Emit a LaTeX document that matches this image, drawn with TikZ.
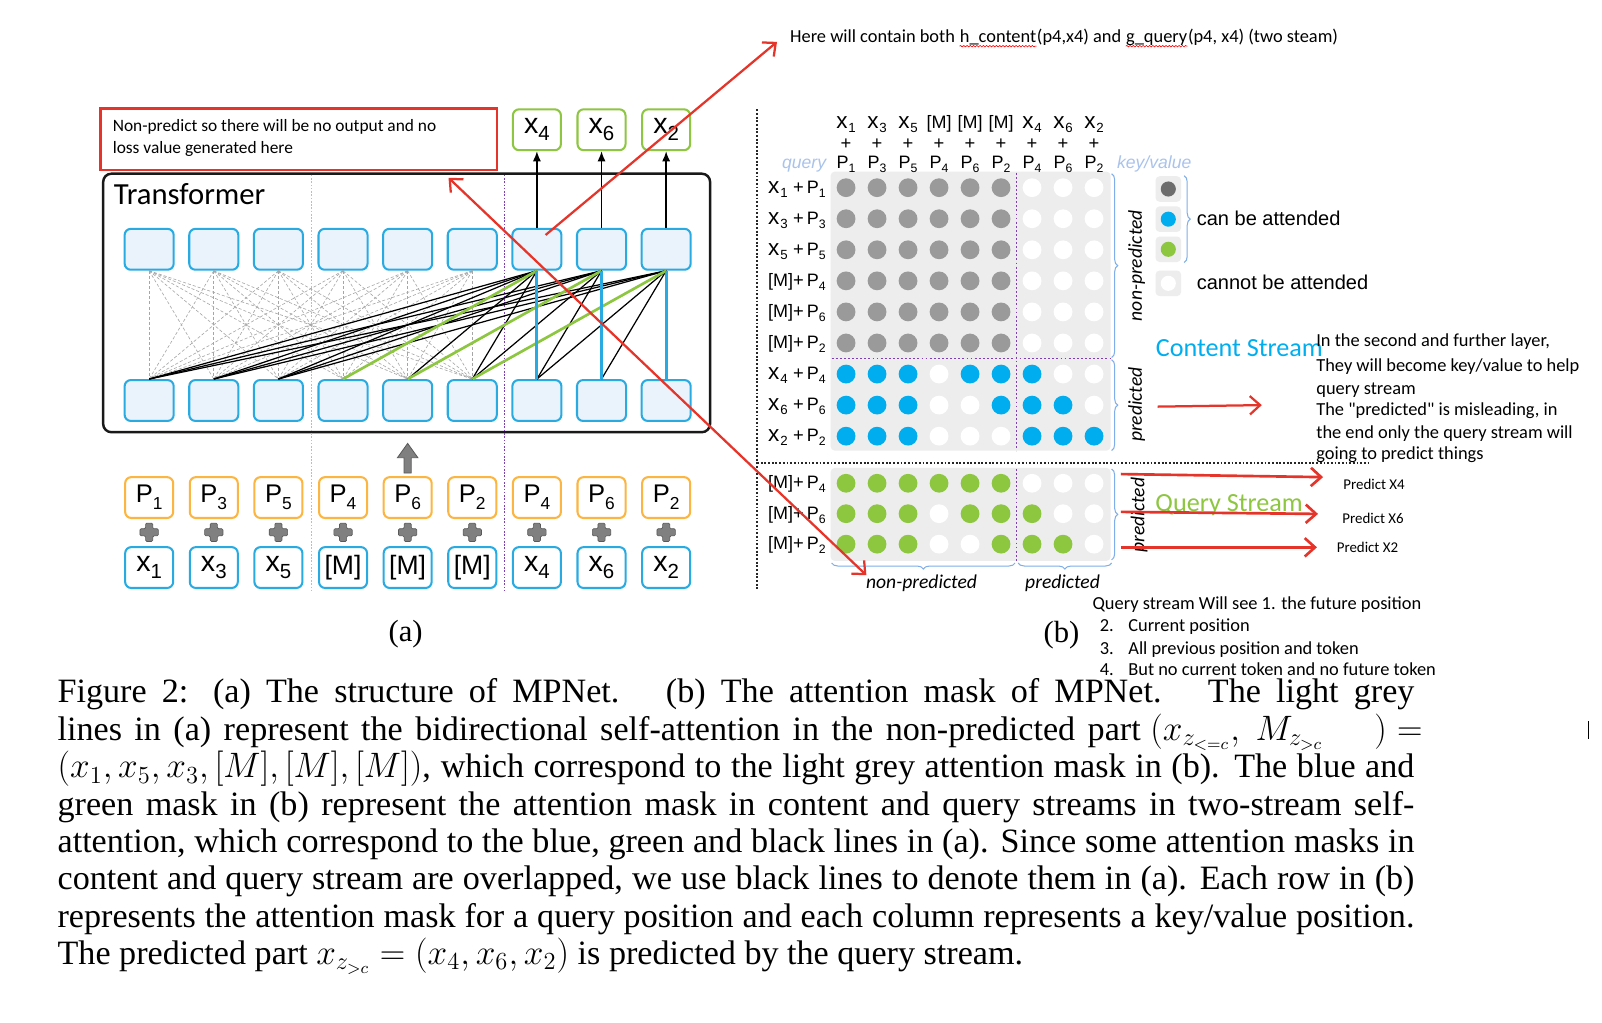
\documentclass[tikz,border=0pt]{standalone}
\usepackage[no-math]{fontspec}
\setmainfont{Liberation Serif}
\newfontfamily\carl{Carlito}
\newfontfamily\hel{Liberation Sans}
\usetikzlibrary{arrows.meta,decorations.pathreplacing,decorations.pathmorphing}
\definecolor{boxblue}{HTML}{29ABE2}
\definecolor{boxfill}{HTML}{EAF2FB}
\definecolor{porange}{HTML}{FBB540}
\definecolor{ogreen}{HTML}{8DC63F}
\definecolor{annred}{HTML}{E5352B}
\definecolor{dotg}{HTML}{9A9A9A}
\definecolor{dotw}{HTML}{FFFFFF}
\definecolor{dotb}{HTML}{00AEEF}
\definecolor{dotq}{HTML}{8DC63F}
\definecolor{dotd}{HTML}{6D6D6D}
\definecolor{matbg}{HTML}{EDEDED}
\definecolor{purp}{HTML}{7E3FB0}
\definecolor{lblue}{HTML}{A9C3EC}
\definecolor{brblue}{HTML}{7FAEE8}
\definecolor{plusg}{HTML}{808080}
\definecolor{dgreen}{HTML}{9AD88A}
\newcommand{\Ax}[1]{{\hel\fontsize{14}{14}\selectfont x\raisebox{-3.5pt}{\fontsize{10}{10}\selectfont #1}}}
\newcommand{\AP}[1]{{\hel\fontsize{12.5}{12.5}\selectfont P\raisebox{-3.5pt}{\fontsize{8.5}{8.5}\selectfont #1}}}
\newcommand{\AM}{{\hel\fontsize{13}{13}\selectfont [M]}}
\newcommand{\Bx}[1]{{\hel\fontsize{11}{11}\selectfont x\kern0.4pt\raisebox{-2pt}{\fontsize{6.5}{6.5}\selectfont #1}}}
\newcommand{\BP}[1]{{\hel\fontsize{8.8}{8.8}\selectfont P\raisebox{-2pt}{\fontsize{6}{6}\selectfont #1}}}
\newcommand{\BM}{{\hel\fontsize{8.8}{8.8}\selectfont [M]}}
\newcommand{\rwave}[1]{\tikz[baseline=(w.base),x=1pt,y=1pt]{\node[inner sep=0pt,anchor=base] (w) at (0,0) {#1};\draw[red,line width=0.3pt,decorate,decoration={snake,amplitude=0.35pt,segment length=1.6pt}] ([yshift=-1.6pt]w.base west) -- ([yshift=-1.6pt]w.base east);}}
\begin{document}
\begin{tikzpicture}[x=0.5pt,y=-0.5pt,
  tok/.style={draw=boxblue, fill=boxfill, line width=1pt, rounded corners=3pt, minimum width=24pt, minimum height=20pt, inner sep=0pt},
  ptok/.style={draw=porange, fill=white, line width=1pt, rounded corners=3pt, minimum width=23.5pt, minimum height=20pt, inner sep=0pt},
  xtok/.style={draw=boxblue, fill=white, line width=1pt, rounded corners=3pt, minimum width=23.5pt, minimum height=20pt, inner sep=0pt},
  otok/.style={draw=ogreen, fill=white, line width=1pt, rounded corners=3pt, minimum width=23.5pt, minimum height=20pt, inner sep=0pt},
  greyl/.style={draw=black!35, line width=0.3pt, dash pattern=on 1.5pt off 1pt},
  blkl/.style={draw=black, line width=0.6pt},
  grnl/.style={draw=ogreen, line width=1.3pt},
  blul/.style={draw=boxblue, line width=1.5pt},
  uparr/.style={draw=black, line width=0.7pt, -{Latex[length=5pt,width=4pt]}},
  redarr/.style={draw=annred, line width=1.1pt, -{Straight Barb[length=5pt,width=9pt]}},
  dotline/.style={draw=black!85, line width=1pt, dash pattern=on 0.9pt off 0.9pt},
  purpline/.style={draw=purp, line width=0.8pt, dash pattern=on 0.9pt off 1.1pt},
  brc/.style={draw=brblue, line width=0.5pt, decorate, decoration={brace, amplitude=3pt}},
  legsq/.style={fill=matbg, rounded corners=2pt, minimum size=12.5pt, inner sep=0pt},
  ann/.style={font=\carl\fontsize{9}{11}\selectfont, inner sep=0pt, anchor=base west},
  lab/.style={inner sep=0pt, anchor=base},
  itl/.style={font=\carl\itshape\fontsize{9.6}{9.6}\selectfont, inner sep=0pt},
  capl/.style={font=\fontsize{16.7}{18.4}\selectfont, inner sep=0pt, anchor=base west}
]
\useasboundingbox (0,0) rectangle (1568,1001);
\fill[white] (0,0) rectangle (1568,1001);

% ---------------- (a) ----------------
\node[draw=annred, line width=1.2pt, minimum width=194pt, minimum height=30pt, inner sep=0pt, anchor=north west] (redbox) at (97,105) {};
\node[ann, font=\carl\fontsize{8.5}{10.5}\selectfont] (rb1) at (110,129) {Non-predict so there will be no output and no};
\node[ann, font=\carl\fontsize{8.5}{10.5}\selectfont] (rb2) at (110,150) {loss value generated here};

\draw[draw=black!90, line width=1.2pt, rounded corners=4pt, fill=white] (101,170) rectangle (695,423);
\node[anchor=base west, inner sep=0pt, font=\carl\fontsize{15}{15}\selectfont] (trf) at (111,200) {Transformer};

\draw[draw=dgreen, line width=0.6pt, dash pattern=on 0.8pt off 0.8pt] (305,171) -- (305,578);
\draw[draw=purp, line width=0.6pt, dash pattern=on 0.8pt off 0.8pt] (494,171) -- (494,578);

\foreach \cx/\pl/\xl [count=\i] in {146/1/{\Ax{1}},209.25/3/{\Ax{3}},272.5/5/{\Ax{5}},335.75/4/{\AM},399/6/{\AM},462.25/2/{\AM},525.5/4/{\Ax{4}},588.75/6/{\Ax{6}},652/2/{\Ax{2}}}{
  \node[tok] (t\i) at (\cx,244) {};
  \node[tok] (b\i) at (\cx,392) {};
  \node[ptok] (p\i) at (\cx,487) {\AP{\pl}};
  \node[xtok] (w\i) at (\cx,555.5) {\xl};
  \begin{scope}[shift={(\cx,521)}]
    \filldraw[fill=plusg, draw=black!65, line width=0.3pt, rounded corners=0.6pt]
      (-3.5,-9) -- (3.5,-9) -- (3.5,-3.5) -- (9,-3.5) -- (9,3.5) -- (3.5,3.5) -- (3.5,9) -- (-3.5,9) -- (-3.5,3.5) -- (-9,3.5) -- (-9,-3.5) -- (-3.5,-3.5) -- cycle;
  \end{scope}
}
\foreach \cx/\l/\i in {525.5/4/7,588.75/6/8,652/2/9}{
  \node[otok] (o\i) at (\cx,127) {\Ax{\l}};
  \draw[uparr] (t\i.north) -- (o\i.south);
}

% bidirectional grey lines
\foreach \a in {1,...,6}{
  \foreach \b in {1,...,6}{
    \draw[greyl] (t\a.south) -- (b\b.north);
  }
}
% black lines
\foreach \t/\bs in {7/{1,2,3,5,6},8/{1,2,3,6,7},9/{1,2,3,7,8}}{
  \foreach \b in \bs { \draw[blkl] (t\t.south) -- (b\b.north); }
}
\draw[grnl] (b4.north) -- (t7.south);
\draw[grnl] (b5.north) -- (t8.south);
\draw[grnl] (b6.north) -- (t9.south);
\draw[blul] (b7.north) -- (t7.south);
\draw[blul] (b8.north) -- (t8.south);
\draw[blul] (b9.north) -- (t9.south);

% block up arrow
\filldraw[fill=plusg, draw=black!65, line width=0.4pt] (395.5,463) -- (402.5,463) -- (402.5,448) -- (409,448) -- (399,434) -- (389,448) -- (395.5,448) -- cycle;

\node[font=\fontsize{15}{15}\selectfont, inner sep=0pt] (la) at (397,621) {(a)};

% ---------------- (b) ----------------
\draw[dotline] (741,107) -- (741,578);
\draw[dotline] (741,453) -- (1340,453);

\fill[matbg, rounded corners=2pt] (813,168) rectangle (1087,441);
\fill[matbg, rounded corners=2pt] (813,458) rectangle (1087,549);

\foreach \row [count=\r] in {{g,g,g,g,g,g,w,w,w},{g,g,g,g,g,g,w,w,w},{g,g,g,g,g,g,w,w,w},{g,g,g,g,g,g,w,w,w},{g,g,g,g,g,g,w,w,w},{g,g,g,g,g,g,w,w,w},{b,b,b,w,b,b,b,w,w},{b,b,b,w,w,b,b,b,w},{b,b,b,w,w,w,b,b,b}}{
  \foreach \c [count=\k] in \row {
    \fill[dot\c] ({828.1+30.34*(\k-1)},{183.7+30.4*(\r-1)}) circle[radius=4.6pt];
  }
}
\foreach \row [count=\r] in {{q,q,q,q,q,q,w,w,w},{q,q,q,w,q,q,q,w,w},{q,q,q,w,w,q,q,q,w}}{
  \foreach \c [count=\k] in \row {
    \fill[dot\c] ({828.1+30.34*(\k-1)},{473+29.8*(\r-1)}) circle[radius=4.6pt];
  }
}
\draw[purpline] (995,169) -- (995,441);
\draw[purpline] (995,459) -- (995,549);
\draw[purpline] (814,351) -- (1087,351);

% column headers
\foreach \lb/\pp [count=\k] in {{\Bx{1}}/1,{\Bx{3}}/3,{\Bx{5}}/5,{\BM}/4,{\BM}/6,{\BM}/2,{\Bx{4}}/4,{\Bx{6}}/6,{\Bx{2}}/2}{
  \node[lab] (hx\k) at ({828.1+30.34*(\k-1)},125.6) {\lb};
  \node[lab, font=\hel\fontsize{9}{9}\selectfont] (hp\k) at ({828.1+30.34*(\k-1)},146.8) {+};
  \node[lab] (hq\k) at ({828.1+30.34*(\k-1)},164.8) {\BP{\pp}};
}
\node[inner sep=0pt, anchor=base east, text=lblue, font=\hel\itshape\fontsize{8.6}{8.6}\selectfont] (lq) at (809,164.8) {query};
\node[inner sep=0pt, anchor=base west, text=lblue, font=\hel\itshape\fontsize{8.6}{8.6}\selectfont] (lkv) at (1093,164.8) {key/value};

% row labels
\foreach \lb/\pp [count=\r] in {{\Bx{1}}/1,{\Bx{3}}/3,{\Bx{5}}/5,{\BM}/4,{\BM}/6,{\BM}/2,{\Bx{4}}/4,{\Bx{6}}/6,{\Bx{2}}/2}{
  \node[inner sep=0pt, anchor=base west] (rx\r) at (751.5,{189.2+30.4*(\r-1)}) {\lb};
  \node[inner sep=0pt, anchor=base east] (rp\r) at (808.5,{189.2+30.4*(\r-1)}) {{\hel\fontsize{9}{9}\selectfont +}\kern1.5pt\BP{\pp}};
}
\foreach \pp [count=\r] in {4,6,2}{
  \node[inner sep=0pt, anchor=base west] (qx\r) at (751.5,{478.5+29.8*(\r-1)}) {\BM};
  \node[inner sep=0pt, anchor=base east] (qp\r) at (808.5,{478.5+29.8*(\r-1)}) {{\hel\fontsize{9}{9}\selectfont +}\kern1.5pt\BP{\pp}};
}

% braces
\draw[brc] (1088,170) -- (1088,350);
\draw[brc] (1088,352) -- (1088,441);
\draw[brc] (1088,459) -- (1088,548);
\draw[brc] (993.5,551) -- (814,551);
\draw[brc] (1088,551) -- (996.5,551);
\node[itl, rotate=90] (rnp) at (1112.5,260) {non-predicted};
\node[itl, rotate=90] (rpr) at (1112.5,396) {predicted};
\node[itl, rotate=90] (qpr) at (1115,504) {predicted};
\node[itl, anchor=base] (bnp) at (902,576) {non-predicted};
\node[itl, anchor=base] (bpr) at (1040,576) {predicted};

% legend
\node[legsq] (lg1) at (1143.5,185) {};
\node[legsq] (lg2) at (1143.5,214.5) {};
\node[legsq] (lg3) at (1143.5,244) {};
\node[legsq] (lg4) at (1143.5,277.3) {};
\fill[dotd] (lg1.center) circle[radius=3.7pt];
\fill[dotb] (lg2.center) circle[radius=3.7pt];
\fill[dotq] (lg3.center) circle[radius=3.7pt];
\fill[white] (lg4.center) circle[radius=3.7pt];
\draw[brc] (1159,172) -- (1159,257);
\node[inner sep=0pt, anchor=base west, font=\hel\fontsize{9.8}{9.8}\selectfont] (can) at (1171,221) {can be attended};
\node[inner sep=0pt, anchor=base west, font=\hel\fontsize{9.8}{9.8}\selectfont] (cannot) at (1171,283) {cannot be attended};

\node[inner sep=0pt, anchor=base west, text=dotb, font=\carl\fontsize{12.8}{12.8}\selectfont] (cs) at (1131,349) {Content Stream};
\node[inner sep=0pt, anchor=base west, text=dotq, font=\carl\fontsize{12.8}{12.8}\selectfont] (qs) at (1130.5,501) {Query Stream};

\node[ann] (n1) at (1288,339.3) {In the second and further layer,};
\node[ann] (n2) at (1288,363.2) {They will become key/value to help};
\node[ann] (n3) at (1288,386) {query stream};
\node[ann] (n4) at (1288,406.2) {The "predicted" is misleading, in};
\node[ann] (n5) at (1288,429) {the end only the query stream will};
\node[ann] (n6) at (1288,449.3) {going to predict things};

\node[ann] (top) at (773,42) {Here will contain both \rwave{h\_content}(p4,x4) and \rwave{g\_query}(p4, x4) (two steam)};

\node[ann, font=\carl\fontsize{7.3}{7.3}\selectfont] (pr1) at (1314.5,479) {Predict X4};
\node[ann, font=\carl\fontsize{7.3}{7.3}\selectfont] (pr2) at (1313.5,512) {Predict X6};
\node[ann, font=\carl\fontsize{7.3}{7.3}\selectfont] (pr3) at (1308,541) {Predict X2};
\coordinate (a1s) at (1097,464);
\coordinate (a2s) at (1097,501);
\coordinate (a3s) at (1097,535.7);
\coordinate (a4s) at (1133,398);

\node[ann] (qsw) at (1069,597) {Query stream Will see 1. the future position};
\node[ann] (l2n) at (1076,618) {2.};
\node[ann] (l2t) at (1104,618) {Current position};
\node[ann] (l3n) at (1076,640.5) {3.};
\node[ann] (l3t) at (1104,640.5) {All previous position and token};
\node[ann] (l4n) at (1076,660.7) {4.};
\node[ann] (l4t) at (1104,660.7) {But no current token and no future token};

\node[font=\fontsize{15}{15}\selectfont, inner sep=0pt] (lb) at (1039,622) {(b)};

% ---------------- caption ----------------
\node[capl] (c1) at (56,688) {\makebox[664pt][s]{Figure 2: (a) The structure of MPNet. \ (b) The attention mask of MPNet. \ The light grey}};
\node[capl] (c2) at (56,724.6) {\makebox[530pt][s]{lines in (a) represent the bidirectional self-attention in the non-predicted part}\hspace{4.8pt}\makebox[115.7pt][l]{$(x_{z_{<=c}},\;M_{z_{>c}}$\hfill$)$}\hspace{5pt}$=$};
\node[capl] (c3) at (56,761.2) {\makebox[664pt][s]{$(x_1, x_5, x_3, [M], [M], [M])$, which correspond to the light grey attention mask in (b). The blue and}};
\node[capl] (c4) at (56,797.8) {\makebox[664pt][s]{green mask in (b) represent the attention mask in content and query streams in two-stream self-}};
\node[capl] (c5) at (56,834.4) {\makebox[664pt][s]{attention, which correspond to the blue, green and black lines in (a). Since some attention masks in}};
\node[capl] (c6) at (56,871) {\makebox[664pt][s]{content and query stream are overlapped, we use black lines to denote them in (a). Each row in (b)}};
\node[capl] (c7) at (56,907.6) {\makebox[664pt][s]{represents the attention mask for a query position and each column represents a key/value position.}};
\node[capl] (c8) at (56,944.2) {The predicted part $x_{z_{>c}} = (x_4, x_6, x_2)$ is predicted by the query stream.};
\draw[black, line width=0.5pt] (1555,706) -- (1555,723);

% ---------------- red annotation arrows ----------------
\coordinate (r1s) at (534,230);
\coordinate (r1e) at (760.5,41);
\draw[redarr] (r1s) -- (r1e);
\coordinate (r2a) at (439,174);
\coordinate (r2b) at (848,563);
\draw[redarr, {Straight Barb[length=5pt,width=9pt]}-{Straight Barb[length=5pt,width=9pt]}] (r2a) -- (r2b);
\draw[redarr] (a4s) -- (1235,396.5);
\draw[redarr, line width=1.3pt] (a1s) -- (1295,467);
\draw[redarr, line width=1.3pt] (a2s) -- (1290,503);
\draw[redarr, line width=1.3pt] (a3s) -- (1289,535.7);
\end{tikzpicture}
\end{document}
